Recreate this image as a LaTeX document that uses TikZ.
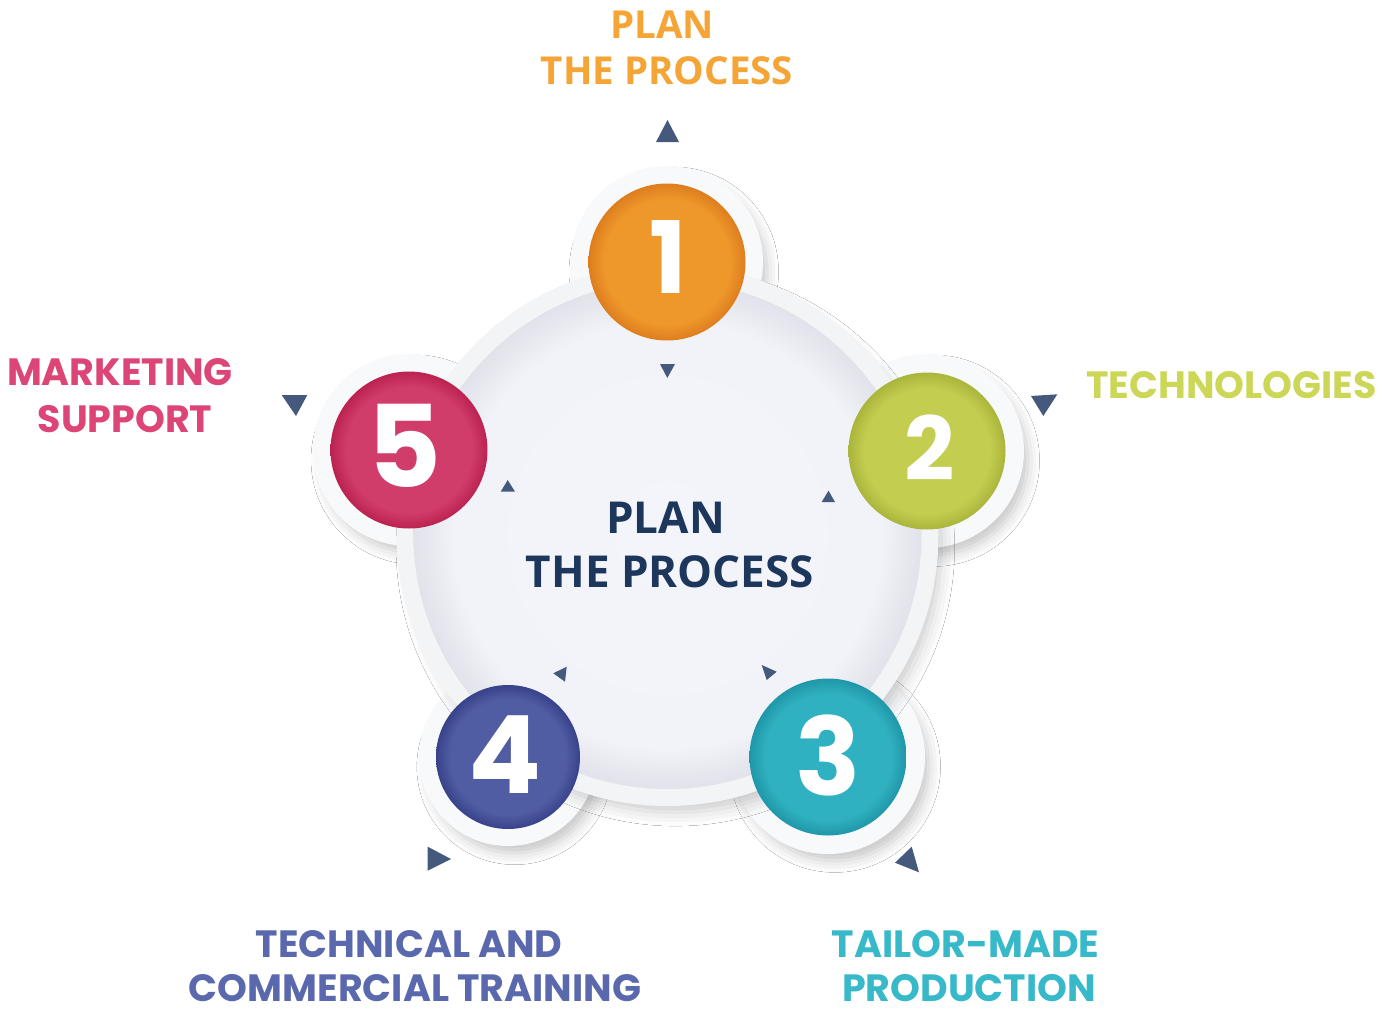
\documentclass[tikz,border=0pt]{standalone}
\usepackage{fontspec}
\setmainfont{Open Sans}
\newfontfamily\popf{Poppins}
\usetikzlibrary{shadows.blur}
\definecolor{oc}{HTML}{EE972B}\definecolor{ocd}{HTML}{DD7E1E}
\definecolor{gc}{HTML}{C3CD50}\definecolor{gcd}{HTML}{A9B53B}
\definecolor{tc}{HTML}{30B1C1}\definecolor{tcd}{HTML}{1F97A8}
\definecolor{nc}{HTML}{515DA3}\definecolor{ncd}{HTML}{37428A}
\definecolor{rc}{HTML}{D03D6B}\definecolor{rcd}{HTML}{BB2250}
\definecolor{olab}{HTML}{F5A436}
\definecolor{glab}{HTML}{CDD757}
\definecolor{tlab}{HTML}{37B9CA}
\definecolor{nlab}{HTML}{5A68AE}
\definecolor{rlab}{HTML}{DC4576}
\definecolor{ctext}{HTML}{1D365C}
\definecolor{tric}{HTML}{44597B}
\definecolor{ringc}{HTML}{F8F9FA}
\definecolor{bandc}{HTML}{F3F4F6}
\definecolor{inA}{HTML}{F4F5FA}\definecolor{inB}{HTML}{F2F3F8}\definecolor{inC}{HTML}{E1E2EA}
\pgfdeclareradialshading{ballO}{\pgfpoint{0bp}{0bp}}{color(0bp)=(oc); color(20bp)=(oc); color(25bp)=(ocd); color(50bp)=(ocd)}
\pgfdeclareradialshading{ballG}{\pgfpoint{0bp}{0bp}}{color(0bp)=(gc); color(20bp)=(gc); color(25bp)=(gcd); color(50bp)=(gcd)}
\pgfdeclareradialshading{ballT}{\pgfpoint{0bp}{0bp}}{color(0bp)=(tc); color(20bp)=(tc); color(25bp)=(tcd); color(50bp)=(tcd)}
\pgfdeclareradialshading{ballN}{\pgfpoint{0bp}{0bp}}{color(0bp)=(nc); color(20bp)=(nc); color(25bp)=(ncd); color(50bp)=(ncd)}
\pgfdeclareradialshading{ballR}{\pgfpoint{0bp}{0bp}}{color(0bp)=(rc); color(20bp)=(rc); color(25bp)=(rcd); color(50bp)=(rcd)}
\pgfdeclareradialshading{bigin}{\pgfpoint{0bp}{0bp}}{color(0bp)=(inA); color(21bp)=(inB); color(25bp)=(inC); color(50bp)=(inC)}
\begin{document}
\begin{tikzpicture}[x=1pt,y=-1pt,
  ringnode/.style={circle,inner sep=0pt,fill=ringc,minimum size=#1,
    blur shadow={shadow xshift=7pt,shadow yshift=-10pt,shadow blur radius=12pt,shadow opacity=22,shadow scale=0.97}},
  ballnode/.style={circle,inner sep=0pt,minimum size=#1},
  digit/.style={anchor=base,text=white,inner sep=0pt},
  lab/.style={anchor=base,inner sep=0pt,font=\popf\bfseries\fontsize{38}{40}\selectfont},
  toplab/.style={anchor=base,inner sep=0pt,text=olab,font=\bfseries\fontsize{38.5}{40}\selectfont},
  ctr/.style={anchor=base,inner sep=0pt,text=ctext,font=\bfseries\fontsize{44}{45}\selectfont},
  tri/.style={fill=tric}]
\useasboundingbox[fill=white] (0,0) rectangle (1395,1009);
% rings behind the big circle
\node[ringnode=192pt] (r1) at (667,262) {};
\node[ringnode=194pt] (r2) at (927,451) {};
\node[ringnode=194pt] (r3) at (828,757) {};
\node[ringnode=178pt] (r4) at (508,757) {};
\node[ringnode=192pt] (r5) at (409,450) {};
% big circle
\node[circle,inner sep=0pt,minimum size=542pt,fill=bandc,
  blur shadow={shadow xshift=8pt,shadow yshift=-12pt,shadow blur radius=14pt,shadow opacity=20,shadow scale=0.98}] (big) at (667.5,535) {};
\node[circle,inner sep=0pt,minimum size=508pt,shading=bigin] (bigin) at (667.5,535) {};
% coloured circles
\node[ballnode=157pt,shading=ballO] (c1) at (667,262) {};
\node[ballnode=157pt,shading=ballG] (c2) at (927,451) {};
\node[ballnode=157pt,shading=ballT] (c3) at (828,757) {};
\node[ballnode=144pt,shading=ballN] (c4) at (508,757) {};
\node[ballnode=157pt,shading=ballR] (c5) at (409,450) {};
% digits
\node[digit,font=\popf\bfseries\fontsize{100}{100}\selectfont] (d1) at (668,293) {1};
\node[digit,font=\popf\bfseries\fontsize{88}{88}\selectfont] (d2) at (930,480) {2};
\node[digit,font=\popf\bfseries\fontsize{108}{108}\selectfont] (d3) at (828,795) {3};
\node[digit,font=\popf\bfseries\fontsize{108}{108}\selectfont] (d4) at (505,793) {4};
\node[digit,font=\popf\bfseries\fontsize{114}{114}\selectfont] (d5) at (405,487) {5};
% inner triangles
\fill[tri] (660,364) -- (675,364) -- (667.3,378) -- cycle;
\fill[tri] (821.7,502) -- (835,502) -- (828.5,490.7) -- cycle;
\fill[tri] (761.7,665) -- (776.7,671.7) -- (766.7,680) -- cycle;
\fill[tri] (553.3,673.3) -- (566.7,666.7) -- (565,681.7) -- cycle;
\fill[tri] (500.7,491.7) -- (515,491.7) -- (507.7,480) -- cycle;
% outer triangles
\fill[tri] (656,142) -- (679,142) -- (667.5,120) -- cycle;
\fill[tri] (1031,396) -- (1057.3,394.3) -- (1043.3,416) -- cycle;
\fill[tri] (895,862.7) -- (911.7,846.7) -- (919,872.3) -- cycle;
\fill[tri] (427.7,846.7) -- (451,859) -- (427.7,870.7) -- cycle;
\fill[tri] (281.7,395) -- (307.3,395) -- (296,416) -- cycle;
% labels
\node[toplab] (t1a) at (662,38) {PLAN};
\node[toplab] (t1b) at (667,84) {THE PROCESS};
\node[lab,text=glab] (t2) at (1231.5,398) {TECHNOLOGIES};
\node[lab,text=tlab] (t3a) at (965.5,957) {TAILOR-MADE};
\node[lab,text=tlab] (t3b) at (969,1001) {PRODUCTION};
\node[lab,text=nlab] (t4a) at (409,957) {TECHNICAL AND};
\node[lab,text=nlab] (t4b) at (415,1001) {COMMERCIAL TRAINING};
\node[lab,text=rlab] (t5a) at (120,385) {MARKETING};
\node[lab,text=rlab] (t5b) at (125,432) {SUPPORT};
\node[ctr] (ca) at (665.5,533) {PLAN};
\node[ctr] (cb) at (670,587) {THE PROCESS};
\end{tikzpicture}
\end{document}
